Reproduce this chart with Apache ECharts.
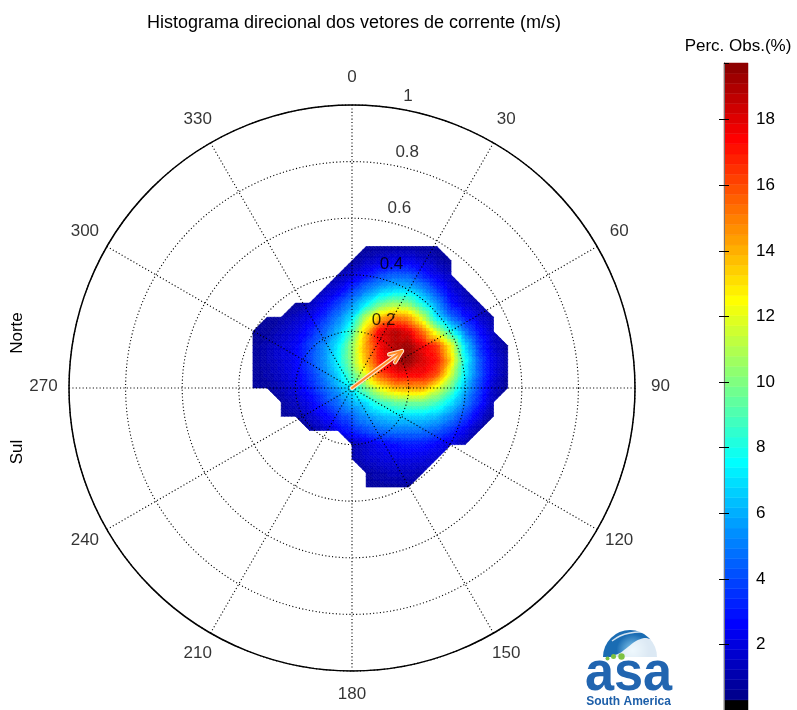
<!DOCTYPE html>
<html>
<head>
<meta charset="utf-8">
<script src="https://cdn.jsdelivr.net/npm/echarts@6/dist/echarts.min.js"></script>
<style>
  html, body { margin: 0; padding: 0; background: #fff; }
  #chart { width: 797px; height: 710px; }
</style>
</head>
<body>
<div id="chart"></div>
<script>
const _ = null;

// Node positions of the velocity histogram (m/s): east component u, north component v
const uNodes = [-0.35, -0.30, -0.25, -0.20, -0.15, -0.10, -0.05, 0.00, 0.05, 0.10,
                0.15, 0.20, 0.25, 0.30, 0.35, 0.40, 0.45, 0.50, 0.55];
const vNodes = [0.50, 0.45, 0.40, 0.35, 0.30, 0.25, 0.20, 0.15, 0.10, 0.05,
                0.00, -0.05, -0.10, -0.15, -0.20, -0.25, -0.30, -0.35];

// Percentage of observations at each node (rows follow vNodes, columns follow uNodes)
const obsPercent = [
  [_, _, _, _, _, _, _, _, 0.6, 0.7, 0.8, 0.8, 0.7, 0.6, _, _, _, _, _],
  [_, _, _, _, _, _, _, 0.7, 1.4, 1.9, 2.2, 2.2, 1.7, 1.1, 0.6, _, _, _, _],
  [_, _, _, _, _, _, 1.0, 1.9, 2.8, 3.8, 4.4, 4.3, 3.2, 2.1, 1.3, _, _, _, _],
  [_, _, _, _, _, 1.4, 2.1, 3.5, 4.9, 6.0, 6.6, 6.5, 5.3, 3.6, 2.0, 1.1, _, _, _],
  [_, _, _, 0.6, 1.2, 2.3, 3.7, 5.3, 7.1, 9.3, 10.3, 9.9, 7.6, 5.4, 2.9, 1.8, 1.1, _, _],
  [_, 0.6, 0.9, 1.5, 2.2, 3.4, 5.0, 7.0, 11.3, 13.9, 15.1, 14.4, 11.4, 7.1, 4.6, 3.0, 1.8, 0.8, _],
  [0.6, 0.7, 1.4, 2.0, 3.0, 4.4, 6.1, 8.8, 13.6, 18.0, 18.9, 18.0, 15.4, 11.5, 8.0, 4.8, 2.8, 1.4, _],
  [0.6, 1.2, 1.8, 2.4, 3.8, 5.2, 7.2, 10.4, 14.3, 17.5, 18.9, 19.4, 17.8, 16.4, 12.2, 6.8, 3.6, 1.7, 0.7],
  [0.6, 1.2, 1.8, 2.4, 3.9, 5.4, 7.4, 10.4, 14.0, 17.3, 18.8, 19.7, 18.2, 17.2, 13.4, 7.8, 4.2, 2.1, 0.9],
  [0.6, 1.0, 1.6, 2.3, 3.5, 4.9, 6.7, 9.3, 12.3, 16.0, 17.5, 17.7, 17.6, 16.2, 11.8, 7.4, 4.3, 2.0, 0.8],
  [0.6, 0.7, 1.3, 2.0, 3.0, 4.3, 5.8, 7.3, 9.8, 12.2, 13.9, 14.3, 14.3, 12.1, 9.6, 6.3, 3.8, 1.6, 0.6],
  [_, _, 0.8, 1.5, 2.3, 3.5, 4.6, 6.0, 7.0, 8.6, 9.5, 9.8, 9.8, 9.0, 7.2, 5.2, 3.2, 1.3, _],
  [_, _, 0.6, 0.85, 1.6, 2.5, 3.5, 4.5, 5.5, 6.2, 6.6, 6.7, 6.7, 6.3, 5.2, 3.8, 2.1, 0.6, _],
  [_, _, _, _, 0.7, 1.3, 2.3, 3.3, 4.0, 4.6, 4.9, 4.9, 4.8, 4.4, 3.5, 2.3, 0.9, _, _],
  [_, _, _, _, _, _, _, 1.1, 1.8, 2.4, 2.8, 3.0, 2.9, 2.5, 2.0, 1.1, _, _, _],
  [_, _, _, _, _, _, _, 1.0, 1.6, 1.9, 2.1, 2.1, 2.0, 1.7, _, _, _, _, _],
  [_, _, _, _, _, _, _, _, 0.8, 1.2, 1.4, 1.4, 1.2, _, _, _, _, _, _],
  [_, _, _, _, _, _, _, _, 0.6, 0.7, 0.8, 0.7, _, _, _, _, _, _, _]
];

// Direction ticks (degrees, clockwise from north) and speed rings (m/s)
const angleTicks = [0, 30, 60, 90, 120, 150, 180, 210, 240, 270, 300, 330];
const speedRings = [0.2, 0.4, 0.6, 0.8, 1];

// Mean current vector
const meanSpeed = 0.22;      // m/s
const meanDirection = 53.5;  // degrees from north

// Colour scale limits (% of observations)
const colorMin = 0;
const colorMax = 19.73;
const colorTickStep = 2;

const FONT = "'Liberation Sans', Arial, Helvetica, sans-serif";
const LABEL_SIZE = 17;

// MATLAB-style jet colormap with a black first entry
function jet(m) {
  const n = Math.ceil(m / 4);
  const u = [];
  for (let i = 1; i <= n; i++) u.push(i / n);
  for (let i = 1; i < n; i++) u.push(1);
  for (let i = n; i >= 1; i--) u.push(i / n);
  const g0 = Math.ceil(n / 2) - (m % 4 === 1 ? 1 : 0);
  const J = Array.from({ length: m }, () => [0, 0, 0]);
  for (let k = 0; k < u.length; k++) {
    const g = g0 + k + 1, r = g + n, b = g - n;
    if (g >= 1 && g <= m) J[g - 1][1] = u[k];
    if (r >= 1 && r <= m) J[r - 1][0] = u[k];
    if (b >= 1 && b <= m) J[b - 1][2] = u[k];
  }
  return J;
}
const colormap = [[0, 0, 0]].concat(jet(63)).map(c =>
  'rgb(' + c.map(x => Math.round(x * 255)).join(',') + ')');
const NC = colormap.length;

function colorOf(val) {
  let k = Math.floor((val - colorMin) / (colorMax - colorMin) * NC);
  k = Math.max(0, Math.min(NC - 1, k));
  return colormap[k];
}

// Grid cells with at least three defined corners
const cells = [];
for (let i = 1; i < vNodes.length; i++) {
  for (let j = 0; j < uNodes.length - 1; j++) {
    const n = [obsPercent[i][j], obsPercent[i][j + 1], obsPercent[i - 1][j], obsPercent[i - 1][j + 1]]
      .filter(x => x !== null).length;
    if (n >= 3) cells.push([(uNodes[j] + uNodes[j + 1]) / 2, (vNodes[i] + vNodes[i - 1]) / 2, i, j]);
  }
}

// Interpolated shading: split each triangle into small flat-coloured facets
const SUB = 4;
function shadeTriangle(A, B, C, out) {
  const P = (a, b) => [A.x + (B.x - A.x) * a / SUB + (C.x - A.x) * b / SUB,
                       A.y + (B.y - A.y) * a / SUB + (C.y - A.y) * b / SUB];
  const V = (a, b) => A.v + (B.v - A.v) * a / SUB + (C.v - A.v) * b / SUB;
  const add = (pts, v) => {
    const c = colorOf(v);
    out.push({ type: 'polygon', shape: { points: pts },
      style: { fill: c, stroke: c, lineWidth: 0.6 }, silent: true });
  };
  for (let a = 0; a < SUB; a++) {
    for (let b = 0; b < SUB - a; b++) {
      add([P(a, b), P(a + 1, b), P(a, b + 1)], V(a + 1 / 3, b + 1 / 3));
      if (a + b < SUB - 1) add([P(a + 1, b), P(a + 1, b + 1), P(a, b + 1)], V(a + 2 / 3, b + 2 / 3));
    }
  }
}

function renderCell(params, api) {
  const i = api.value(2), j = api.value(3);
  const corner = (r, c) => {
    const v = obsPercent[r][c];
    if (v === null) return null;
    const p = api.coord([uNodes[c], vNodes[r]]);
    return { x: p[0], y: p[1], v: v };
  };
  const LL = corner(i, j), LR = corner(i, j + 1), UL = corner(i - 1, j), UR = corner(i - 1, j + 1);
  const children = [];
  if (LL && LR && UL && UR) {
    shadeTriangle(LL, LR, UR, children);
    shadeTriangle(LL, UR, UL, children);
  } else {
    const t = [LL, LR, UR, UL].filter(Boolean);
    shadeTriangle(t[0], t[1], t[2], children);
  }
  return { type: 'group', children: children };
}

// Mean vector arrow with an open head
function renderArrow(params, api) {
  const p0 = api.coord([api.value(0), api.value(1)]);
  const p1 = api.coord([api.value(2), api.value(3)]);
  const dx = p1[0] - p0[0], dy = p1[1] - p0[1];
  const bx = p1[0] - 0.2 * dx, by = p1[1] - 0.2 * dy;
  const nx = -dy * 0.08, ny = dx * 0.08;
  const head = [[bx + nx, by + ny], p1, [bx - nx, by - ny]];
  const line = (pts, stroke, w) => ({ type: 'polyline', shape: { points: pts },
    style: { stroke: stroke, lineWidth: w, fill: 'none', lineCap: 'round', lineJoin: 'round' }, silent: true });
  return { type: 'group', children: [
    line([p0, p1], '#ffe3c8', 4.2), line(head, '#ffe3c8', 4.2),
    line([p0, p1], '#ff8a26', 2), line(head, '#ff8a26', 2)
  ] };
}

// Colour bar bands
const bandStep = (colorMax - colorMin) / NC;
const bands = colormap.map((c, k) => [0.5, colorMin + (k + 0.5) * bandStep, k]);
function renderBand(params, api) {
  const k = api.value(2);
  const top = api.coord([0, colorMin + (k + 1) * bandStep]);
  const bot = api.coord([1, colorMin + k * bandStep]);
  return { type: 'rect', shape: { x: top[0], y: top[1], width: bot[0] - top[0], height: bot[1] - top[1] },
    style: { fill: colormap[k], stroke: colormap[k], lineWidth: 0.5 }, silent: true };
}

const dotted = { color: '#000', width: 1.1, type: [1.1, 2.3] };
const rad = meanDirection * Math.PI / 180;

const option = {
  animation: false,
  textStyle: { fontFamily: FONT },
  title: {
    text: 'Histograma direcional dos vetores de corrente (m/s)',
    left: 349, top: 9, textAlign: 'center',
    textStyle: { fontSize: 18, fontWeight: 'normal', color: '#000', fontFamily: FONT }
  },
  polar: { center: [352, 388], radius: 283 },
  angleAxis: {
    type: 'value', min: 0, max: 360, interval: 30, startAngle: 90, clockwise: true, z: 3,
    axisLine: { lineStyle: { color: '#000', width: 1.5 } },
    axisTick: { show: false }, axisLabel: { show: false },
    splitLine: { show: true, lineStyle: dotted }
  },
  radiusAxis: {
    type: 'value', min: 0, max: 1, interval: 0.2, z: 3,
    axisLine: { show: false }, axisTick: { show: false }, axisLabel: { show: false },
    splitLine: { show: true, lineStyle: dotted }
  },
  grid: [
    { left: 69, top: 105, width: 566, height: 566 },
    { left: 724, top: 63, width: 24, height: 651 }
  ],
  xAxis: [
    { gridIndex: 0, type: 'value', min: -1, max: 1, show: false },
    { gridIndex: 1, type: 'value', min: 0, max: 1, position: 'top', z: 5,
      axisLine: { show: true, lineStyle: { color: '#777', width: 1 } },
      axisTick: { show: false }, axisLabel: { show: false }, splitLine: { show: false } }
  ],
  yAxis: [
    { gridIndex: 0, type: 'value', min: -1, max: 1, show: false },
    { gridIndex: 1, type: 'value', min: colorMin, max: colorMax, interval: colorTickStep, position: 'right', z: 5,
      axisLine: { show: true, lineStyle: { color: '#777', width: 1 } },
      axisTick: { show: true, inside: true, length: 5, lineStyle: { color: '#000' } },
      axisLabel: { show: true, showMinLabel: false, showMaxLabel: false, fontSize: LABEL_SIZE, color: '#000', margin: 8 },
      splitLine: { show: false } },
    { gridIndex: 1, type: 'value', min: colorMin, max: colorMax, interval: colorTickStep, position: 'left', z: 5,
      axisLine: { show: true, lineStyle: { color: '#777', width: 1 } },
      axisTick: { show: true, inside: true, length: 5, lineStyle: { color: '#000' } },
      axisLabel: { show: false }, splitLine: { show: false } }
  ],
  series: [
    { type: 'custom', name: 'Perc. Obs.', coordinateSystem: 'cartesian2d', xAxisIndex: 0, yAxisIndex: 0,
      z: 1, silent: true, renderItem: renderCell, data: cells },
    { type: 'custom', name: 'Vetor médio', coordinateSystem: 'cartesian2d', xAxisIndex: 0, yAxisIndex: 0,
      z: 6, silent: true, renderItem: renderArrow,
      data: [[0, 0, meanSpeed * Math.sin(rad), meanSpeed * Math.cos(rad)]] },
    { type: 'scatter', name: 'Direção', coordinateSystem: 'polar', z: 4, silent: true, clip: false,
      symbolSize: 1, itemStyle: { color: 'rgba(255,255,255,0)' },
      data: angleTicks.map(a => [1.09, a]),
      label: { show: true, position: 'inside', align: 'center', verticalAlign: 'middle', offset: [0, -2],
        fontSize: LABEL_SIZE, color: '#000', textBorderWidth: 0, formatter: p => String(p.value[1]) } },
    { type: 'scatter', name: 'Velocidade', coordinateSystem: 'polar', z: 4, silent: true, clip: false,
      symbolSize: 1, itemStyle: { color: 'rgba(255,255,255,0)' },
      data: speedRings.map(r => [r + 0.01, 8, r]),
      label: { show: true, position: [0, 0], offset: [12, 0], align: 'left', verticalAlign: 'bottom',
        fontSize: LABEL_SIZE, color: '#000', textBorderWidth: 0, formatter: p => String(p.value[2]) } },
    { type: 'custom', name: 'Escala', coordinateSystem: 'cartesian2d', xAxisIndex: 1, yAxisIndex: 1,
      z: 2, silent: true, renderItem: renderBand, data: bands }
  ],
  graphic: [
    { type: 'text', x: 738, y: 46, silent: true,
      style: { text: 'Perc. Obs.(%)', font: LABEL_SIZE + 'px ' + FONT, fill: '#000', align: 'center', verticalAlign: 'middle' } },
    { type: 'text', x: 17, y: 333, rotation: Math.PI / 2, silent: true,
      style: { text: 'Norte', font: LABEL_SIZE + 'px ' + FONT, fill: '#000', align: 'center', verticalAlign: 'middle' } },
    { type: 'text', x: 17, y: 452, rotation: Math.PI / 2, silent: true,
      style: { text: 'Sul', font: LABEL_SIZE + 'px ' + FONT, fill: '#000', align: 'center', verticalAlign: 'middle' } },
    // logo
    { type: 'group', silent: true, children: [
      { type: 'sector', shape: { cx: 630, cy: 657, r0: 0, r: 27, startAngle: Math.PI, endAngle: Math.PI * 2 },
        style: { fill: { type: 'radial', x: 0.55, y: 0.75, r: 0.6,
          colorStops: [{ offset: 0, color: '#8fd0f2' }, { offset: 1, color: '#1a6cb3' }] } } },
      { type: 'polygon', shape: { smooth: 0.3, points: [[611, 657], [620, 653], [628, 647], [636, 641], [644, 638],
          [650, 639], [655, 642], [657, 648], [657, 657]] },
        style: { fill: 'rgba(255,255,255,0.85)' } },
      { type: 'polyline', shape: { smooth: 0.4, points: [[612, 641], [620, 636], [630, 633], [640, 632], [648, 634]] },
        style: { stroke: 'rgba(255,255,255,0.8)', lineWidth: 1.5, fill: 'none' } },
      { type: 'circle', shape: { cx: 607.5, cy: 658.5, r: 2 }, style: { fill: '#7dc242' } },
      { type: 'circle', shape: { cx: 613.5, cy: 656.5, r: 2.5 }, style: { fill: '#7dc242' } },
      { type: 'circle', shape: { cx: 621.5, cy: 656.5, r: 3.2 }, style: { fill: '#7dc242' } },
      { type: 'text', x: 628.5, y: 675, scaleX: 0.95,
        style: { text: 'asa', font: 'bold 55px ' + FONT, fill: '#2165b0', align: 'center', verticalAlign: 'middle' } },
      { type: 'text', x: 628.5, y: 702,
        style: { text: 'South America', font: 'bold 12px ' + FONT, fill: '#1d5fa9', align: 'center', verticalAlign: 'middle' } }
    ] }
  ]
};

const chart = echarts.init(document.getElementById('chart'), null, { renderer: 'canvas' });
chart.setOption(option);
</script>
</body>
</html>
